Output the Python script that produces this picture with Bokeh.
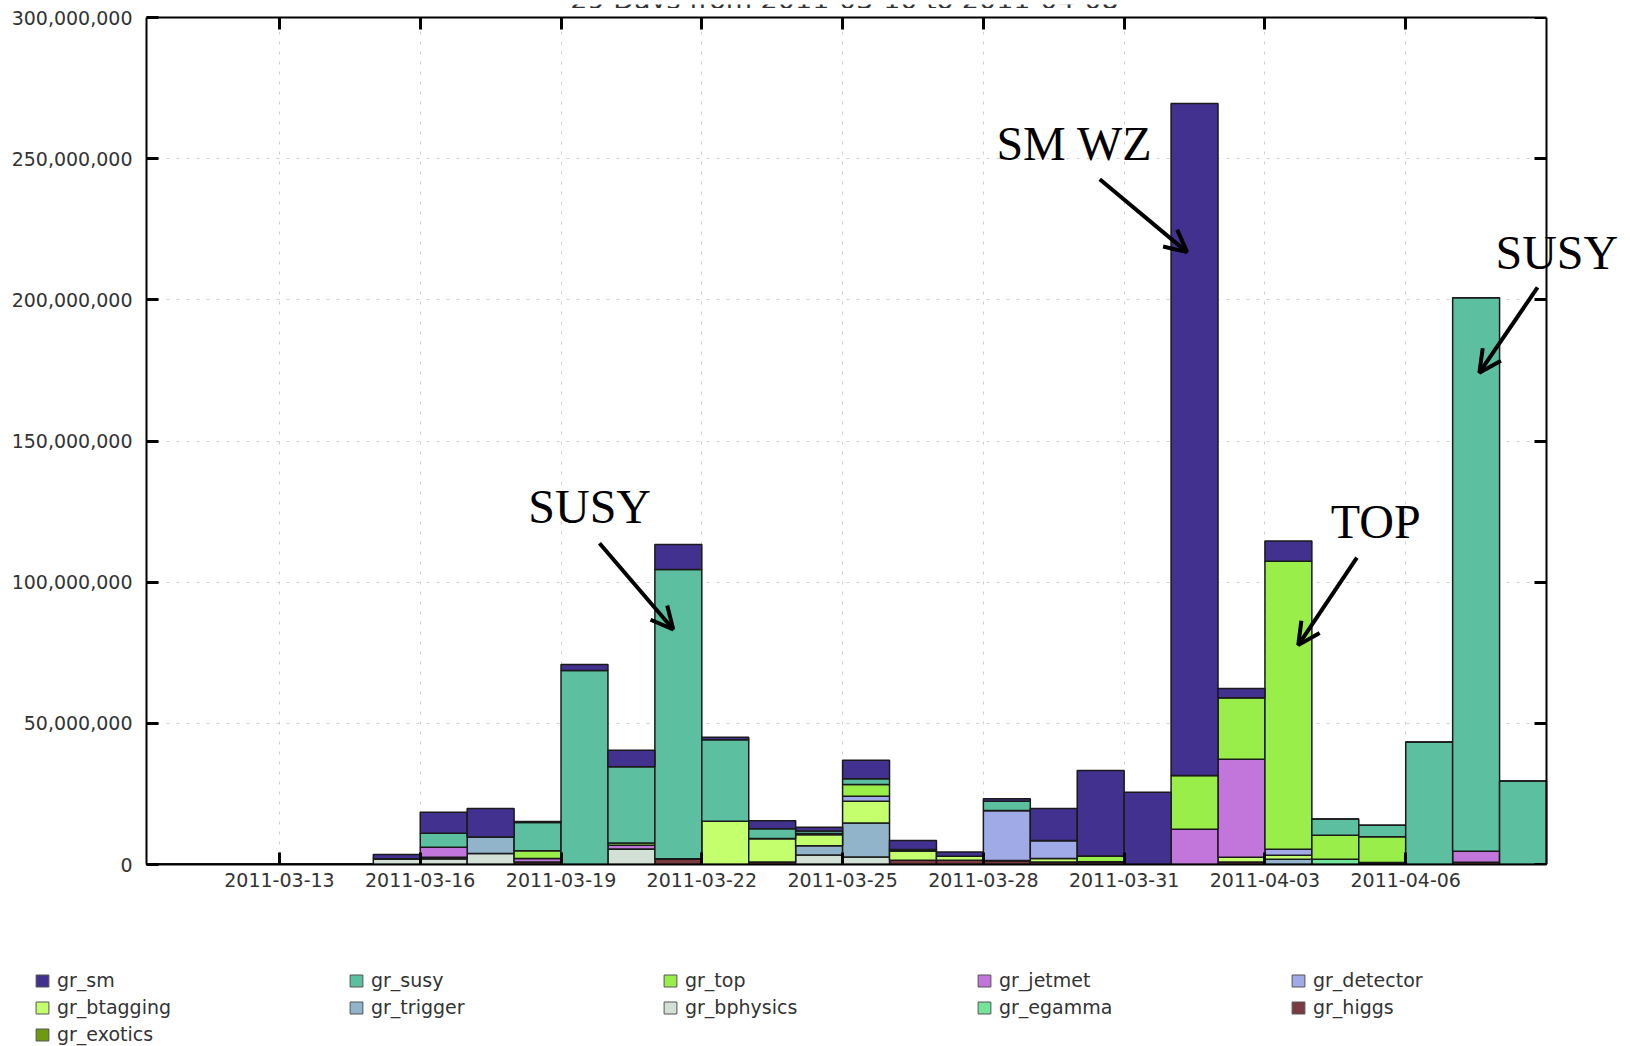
import pandas as pd
from bokeh.plotting import figure
from bokeh.layouts import column
from bokeh.models import (ColumnDataSource, Range1d, FixedTicker, DatetimeTickFormatter,
                          NumeralTickFormatter, LinearAxis, DatetimeAxis, Legend, LegendItem,
                          Label, Arrow, OpenHead)
from bokeh.core.properties import value
from bokeh.embed import file_html
from bokeh.resources import INLINE

# ---------------- data (values in millions) ----------------
days = pd.date_range("2011-03-10", "2011-04-08", freq="D")
title_text = "29 Days from 2011-03-10 to 2011-04-08"

gr_sm       = [0,0,0,0,0, 1.5,7.4,10.1,0.3,2.1, 5.9,8.8,0.9,2.8,1.3, 6.5,3.2,1.5,0.9,11.3, 30.3,25.6,238.0,3.2,7.2, 0,0,0,0,0]
gr_susy     = [0,0,0,0,0, 0,5.0,0,10.0,68.7, 27.0,102.5,28.9,3.5,0.9, 2.1,0.4,0,3.3,0, 0,0,0,0,0, 5.7,4.1,43.4,196.0,29.6]
gr_top      = [0,0,0,0,0, 0,0,0,2.8,0, 0.8,0,0,0,0.4, 4.1,0,0,0,0, 2.0,0,19.0,21.8,102.0, 8.5,9.1,0,0,0]
gr_jetmet   = [0,0,0,0,0, 0,3.5,0,1.2,0, 1.3,0,0,0,0, 0,0,0,0,0, 0,0,12.5,34.7,0, 0,0,0,3.9,0]
gr_detector = [0,0,0,0,0, 0,0,0,0,0, 0,0,0,0,0, 1.8,0,0,17.7,6.4, 0,0,0,0,2.1, 0,0,0,0,0]
gr_btagging = [0,0,0,0,0, 0,0.6,0,0,0, 0,0,15.3,8.3,4.0, 7.7,3.4,1.4,0,1.2, 0,0,0,1.7,1.4, 0,0,0,0,0]
gr_trigger  = [0,0,0,0,0, 0,0,5.8,0,0, 0,0,0,0,3.2, 12.0,0,0,0,0, 0,0,0,0,1.9, 0,0,0,0,0]
gr_bphysics = [0,0,0,0,0, 2.0,2.0,3.9,0,0, 5.5,0,0,0,3.4, 2.7,0,0,0,0, 0,0,0,0,0, 0,0,0,0,0]
gr_egamma   = [0,0,0,0,0, 0,0,0,0,0, 0,0,0,0,0, 0,0,0,0,0, 0,0,0,0,0, 1.9,0,0,0,0]
gr_higgs    = [0,0,0,0,0, 0,0,0,0.9,0, 0,2.0,0,0.9,0, 0,1.5,1.5,1.4,0.9, 1.0,0,0,0.9,0, 0,0.7,0,0.8,0]
gr_exotics  = [0,0,0,0,0, 0,0,0,0,0, 0,0,0,0,0, 0,0,0,0,0, 0,0,0,0,0, 0,0,0,0,0]

series = {
    "gr_sm": gr_sm, "gr_susy": gr_susy, "gr_top": gr_top, "gr_jetmet": gr_jetmet,
    "gr_detector": gr_detector, "gr_btagging": gr_btagging, "gr_trigger": gr_trigger,
    "gr_bphysics": gr_bphysics, "gr_egamma": gr_egamma, "gr_higgs": gr_higgs,
    "gr_exotics": gr_exotics,
}
colors = {
    "gr_sm": "#433190", "gr_susy": "#5CC0A0", "gr_top": "#9AEE4A", "gr_jetmet": "#C276DB",
    "gr_detector": "#A0AAE6", "gr_btagging": "#C4FF6E", "gr_trigger": "#91B4CB",
    "gr_bphysics": "#D2E0D6", "gr_egamma": "#72E59A", "gr_higgs": "#7B3A40",
    "gr_exotics": "#6E9A12",
}
legend_order = ["gr_sm", "gr_susy", "gr_top", "gr_jetmet", "gr_detector",
                "gr_btagging", "gr_trigger", "gr_bphysics", "gr_egamma", "gr_higgs",
                "gr_exotics"]
stack_order = list(reversed(legend_order))  # bottom -> top

# annotations: (text, day offset from 2011-03-10, value in millions at the text's middle)
notes = [("SUSY", 9.61, 126.9), ("SM WZ", 19.94, 255.4), ("SUSY", 30.22, 216.9), ("TOP", 26.36, 121.4)]
arrows = [((9.82, 113.8), (11.39, 83.3)), ((20.48, 242.7), (22.34, 216.9)),
          ((29.81, 204.4), (28.57, 174.2)), ((25.96, 108.7), (24.71, 77.7))]

# ---------------- helpers ----------------
DAY_MS = 86400000.0
base = pd.Timestamp("2011-03-10")


def ms(ts):
    return pd.Timestamp(ts).value / 1e6


def at(d):
    return ms(base) + d * DAY_MS


data = {"x": [ms(d) + DAY_MS / 2 for d in days]}
for n in stack_order:
    data[n] = [v * 1e6 for v in series[n]]
src = ColumnDataSource(data)

W = 1630
X0, X1 = 1 / 6, 30.0            # visible day span of the plot box
PX_PER_DAY = 1400 / (X1 - X0)
X_EXT = X1 + 84 / PX_PER_DAY    # frame runs on under the right-hand annotation
FONT = "DejaVu Sans"
FS = "19px"

# ---------------- title strip (cut off at the top, as in the reference) ----------------
tf = figure(width=W, height=8, x_range=Range1d(0, W), y_range=Range1d(0, 8),
            output_backend="svg", toolbar_location=None,
            x_axis_location=None, y_axis_location=None,
            min_border_left=0, min_border_right=0, min_border_top=0, min_border_bottom=0)
tf.frame_align = False
tf.outline_line_color = None
tf.xgrid.visible = False
tf.ygrid.visible = False
tf.add_layout(Label(x=844, y=13.5, text=title_text, text_align="center",
                    text_baseline="middle", text_font=FONT,
                    text_font_size="27px", text_color="#333333"))

# ---------------- main plot ----------------
p = figure(width=W, height=892, x_axis_type="datetime",
           x_range=Range1d(at(X0), at(X_EXT)), y_range=Range1d(0, 3e8),
           output_backend="svg", toolbar_location=None,
           min_border_left=146, min_border_right=0, min_border_top=9, min_border_bottom=36)
p.frame_align = False
p.background_fill_color = "white"
p.border_fill_color = "white"
p.outline_line_color = None

rs = p.vbar_stack(stack_order, x="x", width=DAY_MS, source=src,
                  fill_color=[colors[n] for n in stack_order],
                  line_color="#1a1a1a", line_width=1.5)

xt = FixedTicker(ticks=[ms(d) for d in pd.date_range("2011-03-13", "2011-04-06", freq="3D")])
yt = FixedTicker(ticks=[i * 5e7 for i in range(7)])
fmt = DatetimeTickFormatter(days="%Y-%m-%d", months="%Y-%m-%d", hours="%Y-%m-%d")
xbounds = (at(X0), at(X1))

common = dict(major_tick_in=12, major_tick_out=0, major_tick_line_width=3,
              major_tick_line_color="black", minor_tick_line_color=None,
              axis_line_color="black", axis_line_width=2)

xa = p.xaxis[0]
xa.ticker = xt
xa.formatter = fmt
xa.bounds = xbounds
xa.major_label_text_font = FONT
xa.major_label_text_font_size = FS
xa.major_label_text_color = "#333333"
xa.major_label_standoff = 8
for k, v in common.items():
    setattr(xa, k, v)

ya = p.yaxis[0]
ya.ticker = yt
ya.formatter = NumeralTickFormatter(format="0,0")
ya.major_label_text_font = FONT
ya.major_label_text_font_size = FS
ya.major_label_text_color = "#333333"
ya.major_label_standoff = 14
for k, v in common.items():
    setattr(ya, k, v)

# tick-only frame sides (right and top): no labels drawn
ra = LinearAxis(ticker=yt, fixed_location=at(X1), major_label_text_font_size="0px",
                major_label_text_color=None, major_label_standoff=0, **common)
p.add_layout(ra, "right")
ta = DatetimeAxis(ticker=xt, bounds=xbounds, major_label_text_font_size="0px",
                  major_label_text_color=None, major_label_standoff=0, **common)
p.add_layout(ta, "above")

p.xgrid.ticker = xt
p.ygrid.ticker = yt
for g in (p.xgrid, p.ygrid):
    g.grid_line_color = "#cfcfcf"
    g.grid_line_dash = "3 7"
    g.grid_line_width = 1
try:
    p.ygrid.cross_bounds = xbounds
except Exception:
    pass

for t, d, v in notes:
    p.add_layout(Label(x=at(d), y=v * 1e6, text=t, text_align="center",
                       text_baseline="middle", text_font="Liberation Serif",
                       text_font_size="48px", text_color="black"))
for (d0, v0), (d1, v1) in arrows:
    p.add_layout(Arrow(end=OpenHead(size=22, line_width=4, line_color="black"),
                       x_start=at(d0), y_start=v0 * 1e6, x_end=at(d1), y_end=v1 * 1e6,
                       line_width=4, line_color="black"))

# ---------------- legend strip ----------------
lf = figure(width=W, height=146, x_range=Range1d(0, 1), y_range=Range1d(0, 1),
            output_backend="svg", toolbar_location=None,
            x_axis_location=None, y_axis_location=None,
            min_border_left=0, min_border_right=0, min_border_top=0, min_border_bottom=0)
lf.frame_align = False
lf.outline_line_color = None
lf.xgrid.visible = False
lf.ygrid.visible = False
# legend keys share the same stacked series (their bars fall outside this strip's ranges)
lrs = lf.vbar_stack(stack_order, x="x", width=DAY_MS, source=src,
                    fill_color=[colors[n] for n in stack_order],
                    line_color="#555555", line_width=1)
lmap = dict(zip(stack_order, lrs))
items = [LegendItem(label=value(n), renderers=[lmap[n]]) for n in legend_order]
legend = Legend(items=items, location=(34, 1), orientation="horizontal", ncols=5,
                glyph_width=16, glyph_height=15, label_standoff=7, label_width=286,
                label_height=20, spacing=5, padding=0, margin=0,
                border_line_color=None, background_fill_alpha=0,
                label_text_font=FONT, label_text_font_size=FS,
                label_text_color="#333333")
lf.add_layout(legend, "center")

open("out.html", "w").write(file_html(column(tf, p, lf, spacing=0), INLINE))
